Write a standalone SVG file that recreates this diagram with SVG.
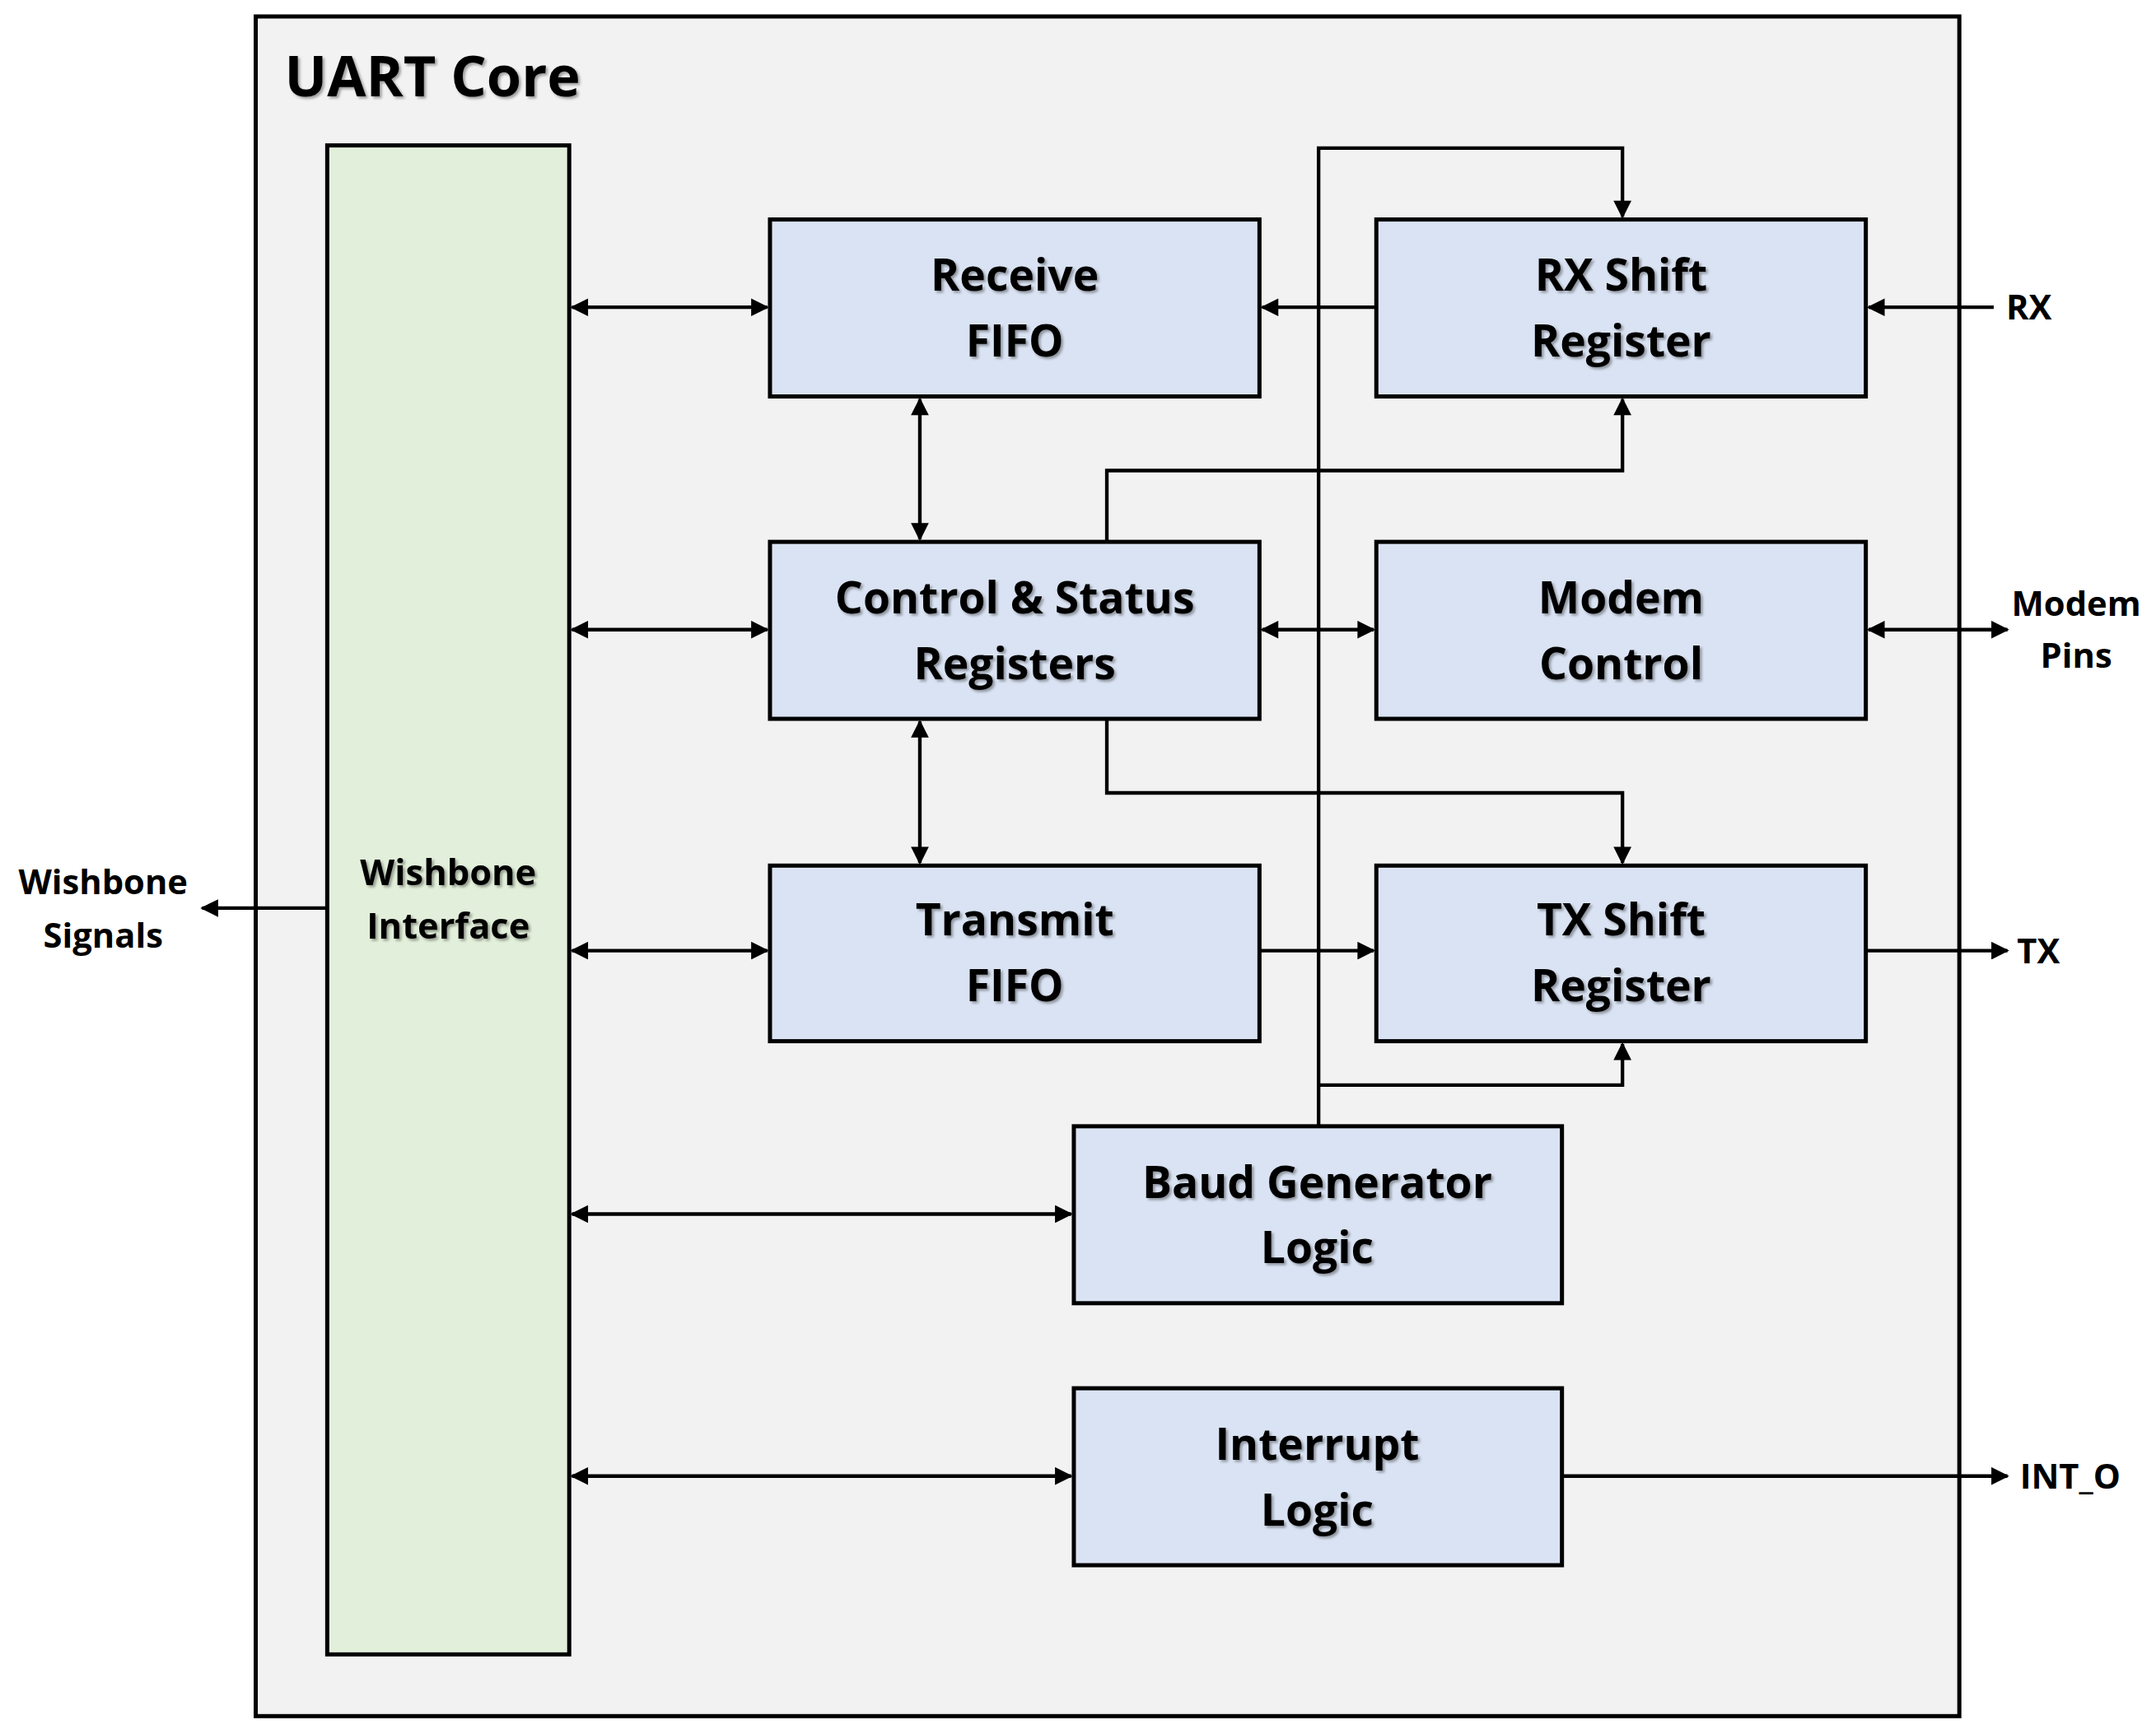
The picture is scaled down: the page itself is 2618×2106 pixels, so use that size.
<svg xmlns="http://www.w3.org/2000/svg" width="2618" height="2106" viewBox="0 0 2618 2106">
<style>
.b{fill:#dae3f3;stroke:#000;stroke-width:3}
.t{font-family:"Open Sans","Liberation Sans",sans-serif;font-weight:bold;font-size:32px;text-anchor:middle;fill:#000}
.l{font-family:"Open Sans","Liberation Sans",sans-serif;font-weight:bold;font-size:25px;fill:#000}
.c{fill:none;stroke:#000;stroke-width:2.6}
</style>
<defs>
<marker id="a" viewBox="0 0 10 10" refX="9" refY="5" markerWidth="14" markerHeight="13" markerUnits="userSpaceOnUse" orient="auto-start-reverse"><path d="M0,0L10,5L0,10z" fill="#000"/></marker>
<filter id="s"><feDropShadow dx="1.5" dy="1.5" stdDeviation="1" flood-color="#000" flood-opacity="0.35"/></filter>
</defs>
<rect width="2618" height="2106" fill="#fff"/>
<g transform="scale(1.6696 1.6661)">
<g id="core"><rect x="186" y="12" width="1239" height="1239" fill="#f2f2f2" stroke="#000" stroke-width="3"/>
<text x="207" y="70" class="t" style="text-anchor:start;font-size:41px" filter="url(#s)">UART Core</text></g>
<g id="wb"><rect x="238" y="106" width="176" height="1100" fill="#e2efda" stroke="#000" stroke-width="3"/>
<text class="t" style="font-size:26px" filter="url(#s)"><tspan x="326" y="645">Wishbone</tspan><tspan x="326" y="684">Interface</tspan></text></g>
<g id="rxfifo"><rect class="b" x="560" y="160" width="356" height="129"/><text class="t" filter="url(#s)"><tspan x="738" y="212">Receive</tspan><tspan x="738" y="260">FIFO</tspan></text></g>
<g id="rxshift"><rect class="b" x="1001" y="160" width="356" height="129"/><text class="t" filter="url(#s)"><tspan x="1179" y="212">RX Shift</tspan><tspan x="1179" y="260">Register</tspan></text></g>
<g id="csr"><rect class="b" x="560" y="395" width="356" height="129"/><text class="t" filter="url(#s)"><tspan x="738" y="447">Control &amp; Status</tspan><tspan x="738" y="495">Registers</tspan></text></g>
<g id="modem"><rect class="b" x="1001" y="395" width="356" height="129"/><text class="t" filter="url(#s)"><tspan x="1179" y="447">Modem</tspan><tspan x="1179" y="495">Control</tspan></text></g>
<g id="txfifo"><rect class="b" x="560" y="631" width="356" height="128"/><text class="t" filter="url(#s)"><tspan x="738" y="682">Transmit</tspan><tspan x="738" y="730">FIFO</tspan></text></g>
<g id="txshift"><rect class="b" x="1001" y="631" width="356" height="128"/><text class="t" filter="url(#s)"><tspan x="1179" y="682">TX Shift</tspan><tspan x="1179" y="730">Register</tspan></text></g>
<g id="baud"><rect class="b" x="781" y="821" width="355" height="129"/><text class="t" filter="url(#s)"><tspan x="958" y="873">Baud Generator</tspan><tspan x="958" y="921">Logic</tspan></text></g>
<g id="int"><rect class="b" x="781" y="1012" width="355" height="129"/><text class="t" filter="url(#s)"><tspan x="958" y="1064">Interrupt</tspan><tspan x="958" y="1112">Logic</tspan></text></g>
<g id="labels">
<text class="l" x="1459" y="233">RX</text>
<text class="l" x="1467" y="702">TX</text>
<text class="l" x="1469" y="1085">INT_O</text>
<text class="l" style="text-anchor:middle"><tspan x="1510" y="449">Modem</tspan><tspan x="1510" y="487">Pins</tspan></text>
<text class="l" style="text-anchor:middle"><tspan x="75" y="652">Wishbone</tspan><tspan x="75" y="691">Signals</tspan></text>
</g>
<g id="connectors" class="c" marker-end="url(#a)">
<path d="M416,224H558" marker-start="url(#a)"/>
<path d="M416,459H558" marker-start="url(#a)"/>
<path d="M416,693H558" marker-start="url(#a)"/>
<path d="M416,885H779" marker-start="url(#a)"/>
<path d="M416,1076H779" marker-start="url(#a)"/>
<path d="M238,662H147"/>
<path d="M1001,224H918"/>
<path d="M1450,224H1359"/>
<path d="M669,291V393" marker-start="url(#a)"/>
<path d="M669,526V629" marker-start="url(#a)"/>
<path d="M805,395V343H1180V291"/>
<path d="M805,524V578H1180V629"/>
<path d="M918,459H999" marker-start="url(#a)"/>
<path d="M1359,459H1460" marker-start="url(#a)"/>
<path d="M916,693H999"/>
<path d="M1357,693H1460"/>
<path d="M959,821V108H1180V158"/>
<path d="M959,791H1180V761"/>
<path d="M1136,1076H1460"/>
</g>
</g>
</svg>
